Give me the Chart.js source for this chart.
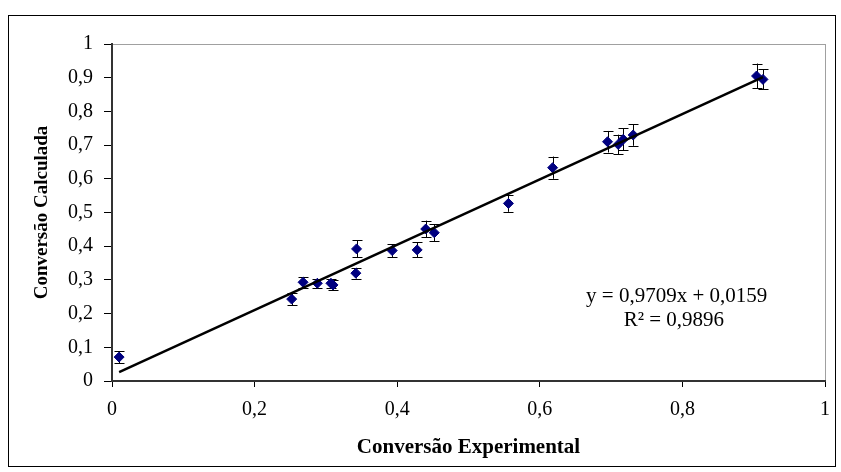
<!DOCTYPE html>
<html>
<head>
<meta charset="utf-8">
<script src="https://cdn.jsdelivr.net/npm/chart.js@4.4.1/dist/chart.umd.min.js"></script>
<style>
  html, body { margin: 0; padding: 0; background: #fff; }
  #wrap { width: 841px; height: 472px; }
</style>
</head>
<body>
<div id="wrap"><canvas id="chart" width="841" height="472"></canvas></div>
<script>
// conversão experimental vs calculada
const expX  = [0.010, 0.252, 0.268, 0.288, 0.307, 0.310, 0.343, 0.342, 0.393, 0.428,
               0.440, 0.452, 0.556, 0.618, 0.695, 0.710, 0.717, 0.731, 0.904, 0.913];
const calcY = [0.071, 0.243, 0.293, 0.290, 0.290, 0.285, 0.392, 0.320, 0.387, 0.389,
               0.451, 0.440, 0.527, 0.633, 0.710, 0.702, 0.717, 0.730, 0.905, 0.895];
const errY  = [0.018, 0.018, 0.016, 0.014, 0.013, 0.015, 0.025, 0.016, 0.019, 0.022,
               0.025, 0.025, 0.025, 0.033, 0.032, 0.029, 0.033, 0.032, 0.037, 0.030];

// linear trend line end points
const trendX = [0.010, 0.913];
const trendY = [0.026, 0.902];

const xTicks = [0, 0.2, 0.4, 0.6, 0.8, 1];
const yTicks = [0, 0.1, 0.2, 0.3, 0.4, 0.5, 0.6, 0.7, 0.8, 0.9, 1];

const eqLine = 'y = 0,9709x + 0,0159';
const r2Line = 'R² = 0,9896';

const SERIF = "'Liberation Serif', 'Times New Roman', serif";

const fmt = (v) => (v === 0 || v === 1 ? String(v) : v.toFixed(1).replace('.', ','));

// outer frame + grey plot box
const framePlugin = {
  id: 'frame',
  beforeDraw(chart) {
    const { ctx, chartArea: a } = chart;
    ctx.save();
    ctx.fillStyle = '#fff';
    ctx.fillRect(0, 0, chart.width, chart.height);
    ctx.strokeStyle = '#000';
    ctx.lineWidth = 1;
    ctx.strokeRect(8.5, 15.5, 827, 451);
    ctx.strokeStyle = '#a0a0a0';
    ctx.strokeRect(a.left + 0.5, a.top + 0.5, a.right - a.left, a.bottom - a.top);
    ctx.restore();
  },
};

// vertical error bars with caps
const errorBarPlugin = {
  id: 'errorBars',
  beforeDatasetsDraw(chart) {
    const { ctx, scales: { x, y } } = chart;
    ctx.save();
    ctx.strokeStyle = '#000';
    ctx.lineWidth = 1;
    expX.forEach((xv, i) => {
      const px = Math.round(x.getPixelForValue(xv)) + 0.5;
      const top = y.getPixelForValue(calcY[i] + errY[i]);
      const bot = y.getPixelForValue(calcY[i] - errY[i]);
      ctx.beginPath();
      ctx.moveTo(px, top);
      ctx.lineTo(px, bot);
      ctx.moveTo(px - 5, Math.round(top) + 0.5);
      ctx.lineTo(px + 5, Math.round(top) + 0.5);
      ctx.moveTo(px - 5, Math.round(bot) + 0.5);
      ctx.lineTo(px + 5, Math.round(bot) + 0.5);
      ctx.stroke();
    });
    ctx.restore();
  },
};

// regression equation text
const equationPlugin = {
  id: 'equation',
  afterDraw(chart) {
    const { ctx, scales: { x, y } } = chart;
    ctx.save();
    ctx.fillStyle = '#000';
    ctx.font = `21px ${SERIF}`;
    ctx.textAlign = 'center';
    ctx.textBaseline = 'middle';
    ctx.fillText(eqLine, x.getPixelForValue(0.792), y.getPixelForValue(0.252));
    ctx.fillText(r2Line, x.getPixelForValue(0.788), y.getPixelForValue(0.181));
    ctx.restore();
  },
};

new Chart(document.getElementById('chart'), {
  type: 'scatter',
  data: {
    datasets: [
      {
        label: 'Conversão',
        data: expX.map((v, i) => ({ x: v, y: calcY[i] })),
        pointStyle: 'rectRot',
        pointRadius: 5,
        backgroundColor: '#000080',
        borderColor: '#000080',
        borderWidth: 1,
        order: 2,
      },
      {
        type: 'line',
        label: 'Linear',
        data: trendX.map((v, i) => ({ x: v, y: trendY[i] })),
        borderColor: '#000',
        borderWidth: 2.5,
        pointRadius: 0,
        fill: false,
        order: 1,
      },
    ],
  },
  options: {
    responsive: false,
    animation: false,
    events: [],
    layout: { padding: { left: 0, top: 44, right: 15, bottom: 0 } },
    plugins: { legend: { display: false }, tooltip: { enabled: false } },
    scales: {
      x: {
        type: 'linear',
        min: 0,
        max: 1,
        afterBuildTicks: (s) => { s.ticks = xTicks.map((v) => ({ value: v })); },
        afterFit: (s) => { s.height = 91; },
        grid: { drawOnChartArea: false, drawTicks: true, tickLength: 6, color: '#000' },
        border: { display: true, color: '#333', width: 2 },
        ticks: {
          color: '#000',
          padding: 11,
          maxRotation: 0,
          font: { family: SERIF, size: 20 },
          callback: fmt,
        },
        title: {
          display: true,
          text: 'Conversão Experimental',
          color: '#000',
          font: { family: SERIF, size: 21, weight: 'bold' },
          padding: { top: 0, bottom: 12 },
        },
      },
      y: {
        type: 'linear',
        min: 0,
        max: 1,
        afterBuildTicks: (s) => { s.ticks = yTicks.map((v) => ({ value: v })); },
        afterFit: (s) => { s.width = 112; },
        grid: { drawOnChartArea: false, drawTicks: true, tickLength: 8, color: '#000' },
        border: { display: true, color: '#333', width: 2 },
        ticks: {
          color: '#000',
          padding: 11,
          font: { family: SERIF, size: 20 },
          callback: fmt,
        },
        title: {
          display: true,
          text: 'Conversão Calculada',
          color: '#000',
          font: { family: SERIF, size: 19, weight: 'bold' },
          padding: { top: 31, bottom: 0 },
        },
      },
    },
  },
  plugins: [framePlugin, errorBarPlugin, equationPlugin],
});
</script>
</body>
</html>
